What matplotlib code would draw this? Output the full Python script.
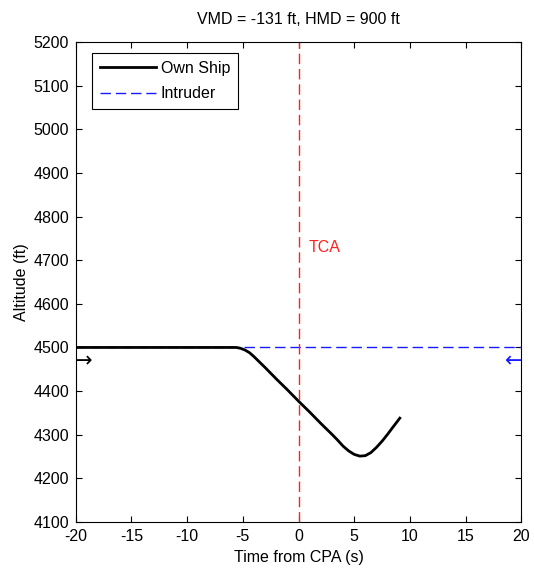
import matplotlib
matplotlib.use("Agg")
from matplotlib import pyplot as plt

# own ship altitude vs time from CPA
own_t = [-20, -8, -5.6, -5.2, -4.8, -4.4, -4, -3, -2, -1, 0, 1, 2, 3, 3.5,
         4, 4.5, 5, 5.5, 6, 6.5, 7, 7.5, 8, 8.5, 9.1]
own_alt = [4500, 4500, 4500, 4498, 4494, 4488, 4479, 4454, 4428, 4403, 4377,
           4352, 4326, 4301, 4288, 4274, 4263, 4255, 4251, 4252, 4259, 4271,
           4285, 4301, 4318, 4338]

intr_t = [-20, 20]
intr_alt = [4500, 4500]

tca = 0
vmd = -131
hmd = 900

plt.rcParams['font.family'] = ['Liberation Sans', 'DejaVu Sans']
plt.rcParams['font.size'] = 11.5
plt.rcParams['axes.unicode_minus'] = False

fig = plt.figure(figsize=(5.34, 5.72), dpi=100)
ax = fig.add_axes([0.142, 0.0874, 0.834, 0.8392])

dash = (0, (7.5, 3.5))
ax.plot(intr_t, intr_alt, color='#1a1aff', linestyle=dash, lw=1, label='Intruder')
ax.plot(own_t, own_alt, color='black', lw=2, label='Own Ship')
ax.axvline(tca, color='#ff2020', linestyle=dash, lw=1)
ax.text(tca + 0.9, 4730, 'TCA', color='#ff2020', va='center', ha='left')

# direction arrows at the start altitude
ax.text(-20.1, 4468, '\u2192', color='black', va='center', ha='left', fontsize=15,
        family='DejaVu Sans')
ax.text(20.1, 4468, '\u2190', color='#1a1aff', va='center', ha='right', fontsize=15,
        family='DejaVu Sans')

ax.set_xlim(-20, 20)
ax.set_ylim(4100, 5200)
ax.set_xticks(range(-20, 21, 5))
ax.set_yticks(range(4100, 5201, 100))
ax.tick_params(direction='in', top=True, right=True, length=4, pad=5)
ax.set_xlabel('Time from CPA (s)', labelpad=4)
ax.set_ylabel('Altitude (ft)', labelpad=3)
ax.set_title('VMD = %d ft, HMD = %d ft' % (vmd, hmd), fontsize=11.5, pad=13)

h, l = ax.get_legend_handles_labels()
leg = ax.legend([h[1], h[0]], [l[1], l[0]], loc='upper left',
                bbox_to_anchor=(0.036, 0.977), borderaxespad=0, fancybox=False,
                edgecolor='black', framealpha=1, borderpad=0.5,
                handlelength=3.5, handletextpad=0.3, labelspacing=0.65)
leg.get_frame().set_linewidth(0.8)

fig.savefig('out.png', dpi=100)
